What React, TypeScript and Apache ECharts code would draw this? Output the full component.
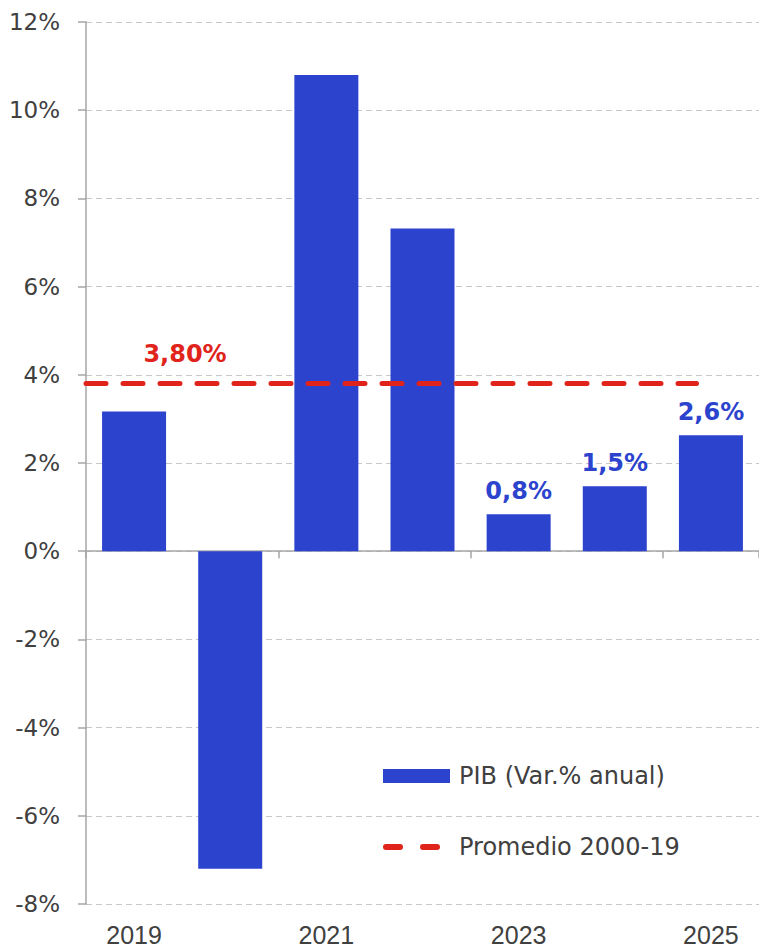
import React, { useEffect, useRef } from "react";
import * as echarts from "echarts";

const years = ["2019", "2020", "2021", "2022", "2023", "2024", "2025"];
const pibValues = [3.17, -7.2, 10.8, 7.32, 0.84, 1.47, 2.63];
const labeledYears = ["2023", "2024", "2025"];
const averageValue = 3.8;
const averageSpan = [0, 1.03, 6.35];
const yTicks = { min: -8, max: 12, interval: 2 };
const seriesNames = ["PIB (Var.% anual)", "Promedio 2000-19"];

const BLUE = "#2C43CE";
const RED = "#E0231B";
const TEXT = "#404040";
const FONT = "DejaVu Sans";

export default function App() {
  const ref = useRef<HTMLDivElement>(null);
  useEffect(() => {
    if (!ref.current) return;
    const chart = echarts.init(ref.current, null, { renderer: "svg" });
    const fmt = (v: number) => v.toFixed(1).replace(".", ",") + "%";
    const legendText = { color: TEXT, fontSize: 24, fontFamily: FONT };
    chart.setOption({
      animation: false,
      backgroundColor: "#ffffff",
      grid: { left: 86, right: 0, top: 22, bottom: 43, containLabel: false },
      legend: [
        {
          left: 383,
          top: 764,
          padding: 0,
          itemWidth: 67,
          itemHeight: 14,
          textStyle: { ...legendText, padding: [0, 0, 0, 4] },
          data: [{ name: seriesNames[0], icon: "rect" }],
        },
        {
          left: 383,
          top: 835,
          padding: 0,
          itemWidth: 57,
          itemHeight: 6,
          textStyle: { ...legendText, padding: [0, 0, 0, 14] },
          data: [
            {
              name: seriesNames[1],
              icon: "path://M3,0 H17 A3,3 0 0 1 17,6 H3 A3,3 0 0 1 3,0 Z M40,0 H54 A3,3 0 0 1 54,6 H40 A3,3 0 0 1 40,0 Z",
              itemStyle: { color: RED },
            },
          ],
        },
      ],
      xAxis: [
        {
          type: "category",
          data: years,
          axisLine: { onZero: true, lineStyle: { color: "#a6a6a6", width: 1.5 } },
          axisTick: { show: true, interval: 1, length: 7, lineStyle: { color: "#a6a6a6", width: 1.5 } },
          axisLabel: { show: false },
          splitLine: { show: false },
        },
        {
          type: "category",
          data: years,
          position: "bottom",
          axisLine: { show: false },
          axisTick: { show: false },
          axisLabel: { show: true, interval: 1, color: TEXT, fontSize: 25, fontFamily: "Liberation Sans", margin: 18 },
          splitLine: { show: false },
        },
        {
          type: "value",
          min: 0,
          max: years.length,
          show: false,
        },
      ],
      yAxis: {
        type: "value",
        min: yTicks.min,
        max: yTicks.max,
        interval: yTicks.interval,
        axisLine: { show: true, onZero: false, lineStyle: { color: "#a6a6a6", width: 1.5 } },
        axisTick: { show: true, length: 8, lineStyle: { color: "#a6a6a6", width: 1.5 } },
        axisLabel: {
          color: TEXT,
          fontSize: 23,
          fontFamily: FONT,
          margin: 26,
          formatter: (v: number) => v + "%",
        },
        splitLine: { show: true, lineStyle: { color: "#c8c8c8", type: [6, 4], width: 1 } },
      },
      series: [
        {
          name: seriesNames[0],
          type: "bar",
          xAxisIndex: 0,
          barWidth: 64,
          itemStyle: { color: BLUE },
          data: pibValues.map((v, i) => ({
            value: v,
            label: {
              show: labeledYears.includes(years[i]),
              position: "top",
              distance: 11,
              color: BLUE,
              fontSize: 24,
              fontWeight: "bold",
              fontFamily: FONT,
              formatter: () => fmt(v),
            },
          })),
        },
        {
          name: seriesNames[1],
          type: "line",
          xAxisIndex: 2,
          symbol: "circle",
          symbolSize: 0.01,
          showSymbol: true,
          lineStyle: { color: RED, width: 5, type: [20, 17], cap: "round" },
          itemStyle: { color: RED },
          data: averageSpan.map((x, i) => ({
            value: [x, averageValue],
            label: {
              show: i === 1,
              position: "top",
              distance: 18,
              color: RED,
              fontSize: 24,
              fontWeight: "bold",
              fontFamily: FONT,
              formatter: () => averageValue.toFixed(2).replace(".", ",") + "%",
            },
          })),
        },
      ],
    });
    return () => chart.dispose();
  }, []);
  return (
    <div
      ref={ref}
      style={{ position: "fixed", left: 0, top: 0, width: 759, height: 947 }}
    />
  );
}
